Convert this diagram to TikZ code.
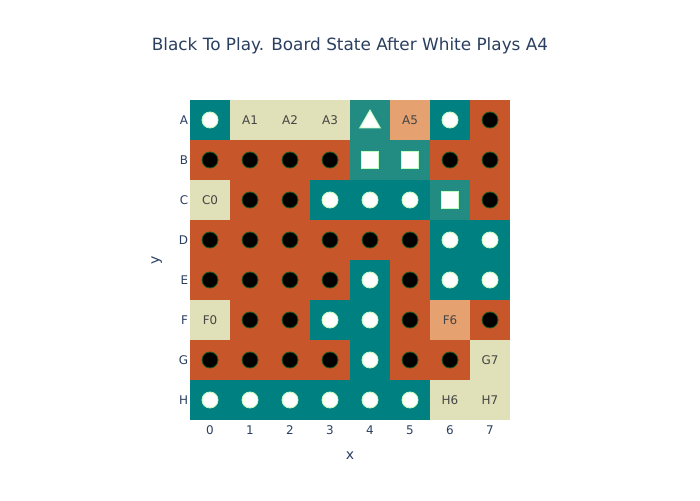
\documentclass[tikz,border=0pt]{standalone}
\usepackage{fontspec}
\setmainfont{DejaVu Sans}
\usetikzlibrary{shapes.geometric}
\definecolor{boardteal}{HTML}{008080}
\definecolor{boardrust}{HTML}{C8562B}
\definecolor{boardcream}{HTML}{E0E1B8}
\definecolor{boardsalmon}{HTML}{E5A170}
\definecolor{boardmark}{HTML}{228B82}
\definecolor{plotink}{HTML}{2A3F5F}
\definecolor{celltext}{HTML}{444444}
\definecolor{rimgreen}{HTML}{1E5A1E}

\begin{document}
\begin{tikzpicture}[
    bstone/.style={circle,fill=black,draw=rimgreen,line width=0.6pt,minimum size=0.4cm,inner sep=0pt},
    wstone/.style={circle,fill=white,draw=green!25!white,line width=0.6pt,minimum size=0.4cm,inner sep=0pt},
    tmark/.style={regular polygon,regular polygon sides=3,fill=white,draw=green!25!white,line width=0.6pt,minimum size=0.6cm,inner sep=0pt},
    smark/.style={rectangle,fill=white,draw=green!25!white,line width=0.6pt,minimum size=0.42cm,inner sep=0pt},
    celllbl/.style={font=\fontsize{8.5}{10}\selectfont,text=celltext},
    ticklbl/.style={font=\fontsize{8.5}{10}\selectfont,text=plotink}]
    \useasboundingbox (-4.75,-2) rectangle (12.75,10.5);
    \node[font=\fontsize{12}{14}\selectfont,text=plotink] (title) at (4,9.35) {Black To Play. Board State After White Plays A4};
    % white stones on teal
    \foreach \r/\c in {0/0,0/6,2/3,2/4,2/5,3/6,3/7,4/4,4/6,4/7,5/3,5/4,6/4,7/0,7/1,7/2,7/3,7/4,7/5} {
        \pgfmathsetmacro{\y}{7-\r}
        \fill[boardteal] (\c,\y) rectangle ++(1,1);
        \node[wstone] (w\r\c) at (\c+0.5,\y+0.5) {};
    }
    % black stones on rust
    \foreach \r/\c in {0/7,1/0,1/1,1/2,1/3,1/6,1/7,2/1,2/2,2/7,3/0,3/1,3/2,3/3,3/4,3/5,
                       4/0,4/1,4/2,4/3,4/5,5/1,5/2,5/5,5/7,6/0,6/1,6/2,6/3,6/5,6/6} {
        \pgfmathsetmacro{\y}{7-\r}
        \fill[boardrust] (\c,\y) rectangle ++(1,1);
        \node[bstone] (b\r\c) at (\c+0.5,\y+0.5) {};
    }
    % empty points
    \foreach \r/\c/\lbl in {0/1/A1,0/2/A2,0/3/A3,2/0/C0,5/0/F0,6/7/G7,7/6/H6,7/7/H7} {
        \pgfmathsetmacro{\y}{7-\r}
        \fill[boardcream] (\c,\y) rectangle ++(1,1);
        \node[celllbl] (e\r\c) at (\c+0.5,\y+0.5) {\lbl};
    }
    \foreach \r/\c/\lbl in {0/5/A5,5/6/F6} {
        \pgfmathsetmacro{\y}{7-\r}
        \fill[boardsalmon] (\c,\y) rectangle ++(1,1);
        \node[celllbl] (e\r\c) at (\c+0.5,\y+0.5) {\lbl};
    }
    % marked points
    \fill[boardmark] (4,7) rectangle ++(1,1);
    \node[tmark] (mA4) at (4.5,7.45) {};
    \foreach \r/\c in {1/4,1/5,2/6} {
        \pgfmathsetmacro{\y}{7-\r}
        \fill[boardmark] (\c,\y) rectangle ++(1,1);
        \node[smark] (m\r\c) at (\c+0.5,\y+0.5) {};
    }
    % axes
    \foreach \lbl [count=\r from 0] in {A,B,C,D,E,F,G,H} {
        \node[ticklbl,anchor=east,inner sep=0pt] (row\lbl) at (-0.04,7.5-\r) {\lbl};
    }
    \foreach \c in {0,...,7} {
        \node[ticklbl] (col\c) at (\c+0.5,-0.25) {\c};
    }
    \node[font=\fontsize{10}{12}\selectfont,text=plotink] (xlbl) at (4,-0.9) {x};
    \node[font=\fontsize{10}{12}\selectfont,text=plotink,rotate=90] (ylbl) at (-0.83,4) {y};
\end{tikzpicture}
\end{document}
